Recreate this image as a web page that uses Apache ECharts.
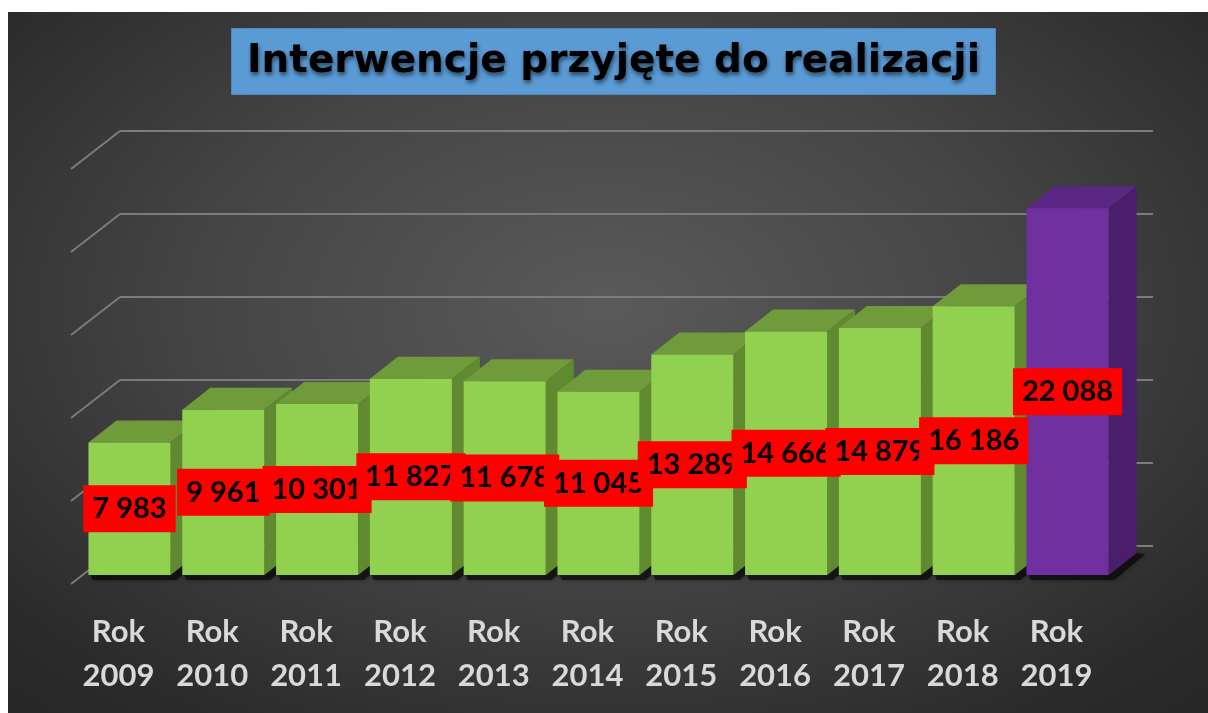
<!DOCTYPE html>
<html><head><meta charset="utf-8">
<script src="https://cdn.jsdelivr.net/npm/echarts@6/dist/echarts.min.js"></script>
<style>
html,body{margin:0;padding:0;background:#fff;width:1208px;height:713px;overflow:hidden;}
#c{position:absolute;left:8px;top:12px;width:1200px;height:701px;
background: radial-gradient(ellipse 75% 80% at 50% 42%, #5a5a5a 0%, #454545 45%, #2b2b2b 85%, #262626 100%);}
</style></head><body><div id="c"></div>
<script>
const titleText = 'Interwencje przyjęte do realizacji';
const categories = ['Rok\n2009','Rok\n2010','Rok\n2011','Rok\n2012','Rok\n2013','Rok\n2014','Rok\n2015','Rok\n2016','Rok\n2017','Rok\n2018','Rok\n2019'];
const values = [7983, 9961, 10301, 11827, 11678, 11045, 13289, 14666, 14879, 16186, 22088];
const yTicks = [0, 5000, 10000, 15000, 20000, 25000];

const DX = 28, DY = -22;          // bar depth offset
const WDX = -49, WDY = 38;        // wall-to-front offset for left edge lines
const GREEN = {front:'#92d050', top:'#709b3a', side:'#5f8a30'};
const PURPLE = {front:'#7030a0', top:'#5a2785', side:'#4a1e6a'};

function fmt(v){ return String(v).replace(/\B(?=(\d{3})+(?!\d))/g, ' '); }

const chart = echarts.init(document.getElementById('c'), null, {renderer:'canvas'});
chart.setOption({
  backgroundColor: 'transparent',
  animation: false,
  title: {
    text: titleText,
    left: 223, top: 16,
    padding: [11, 16, 11, 16],
    backgroundColor: '#5b9bd5',
    borderColor: '#4f88bd', borderWidth: 1,
    textStyle: {
      fontFamily: 'DejaVu Sans', fontWeight: 'bold', fontSize: 39, lineHeight: 45,
      color: '#000',
      textShadowColor: 'rgba(0,0,0,0.55)', textShadowBlur: 4, textShadowOffsetX: 1, textShadowOffsetY: 3
    }
  },
  grid: [
    {left: 74.6, right: 93.6, top: 148, bottom: 138},
    {left: 112, right: 55, top: 119, bottom: 167}
  ],
  xAxis: [
    {type:'category', gridIndex:0, data: categories, boundaryGap: true,
     axisLine:{show:false}, axisTick:{show:false}, splitLine:{show:false},
     axisLabel:{color:'#d9d9d9', fontFamily:'Lato', fontWeight:'bold', fontSize:31, lineHeight:44,
                margin:35, padding:[0,22,0,0], interval:0}},
    {type:'value', gridIndex:1, min:0, max:1, show:false}
  ],
  yAxis: [
    {type:'value', gridIndex:0, min:0, max:25000, interval:5000, show:false},
    {type:'value', gridIndex:1, min:0, max:25000, interval:5000,
     axisLine:{show:false}, axisTick:{show:false}, axisLabel:{show:false},
     splitLine:{show:true, lineStyle:{color:'#7c7c7c', width:2}}}
  ],
  series: [
    {
      type:'custom', xAxisIndex:1, yAxisIndex:1, z:1, clip:false, silent:true,
      data: yTicks.map(t => [0, t]),
      renderItem(params, api){
        const p = api.coord([0, api.value(1)]);
        return {type:'line', shape:{x1:p[0], y1:p[1], x2:p[0]+WDX, y2:p[1]+WDY},
                style:{stroke:'#7c7c7c', lineWidth:2}};
      }
    },
    {
      type:'custom', xAxisIndex:0, yAxisIndex:0, z:3, clip:false, silent:true,
      data: values.map((v,i) => [i, v]),
      renderItem(params, api){
        const i = api.value(0), v = api.value(1);
        const top = api.coord([i, v]), base = api.coord([i, 0]);
        const bw = api.size([1, 0])[0] * 0.875;
        const x0 = top[0] - bw/2, x1 = top[0] + bw/2, yt = top[1], yb = base[1];
        const c = (i === values.length - 1) ? PURPLE : GREEN;
        return {type:'group', children:[
          {type:'polygon', shape:{points:[[x0+2,yb],[x1,yb],[x1+DX,yb+DY],[x1+DX+9,yb+DY+1],[x1+6,yb+5],[x0+4,yb+5]]},
           style:{fill:'rgba(0,0,0,0.55)', shadowBlur:5, shadowColor:'rgba(0,0,0,0.7)'}},
          {type:'polygon', shape:{points:[[x0,yt],[x1,yt],[x1+DX,yt+DY],[x0+DX,yt+DY]]}, style:{fill:c.top}},
          {type:'polygon', shape:{points:[[x1,yt],[x1+DX,yt+DY],[x1+DX,yb+DY],[x1,yb]]}, style:{fill:c.side}},
          {type:'rect', shape:{x:x0, y:yt, width:bw, height:yb-yt}, style:{fill:c.front}}
        ]};
      }
    },
    {
      type:'custom', xAxisIndex:0, yAxisIndex:0, z:10, clip:false, silent:true,
      data: values.map((v,i) => [i, v]),
      renderItem(params, api){
        const i = api.value(0), v = api.value(1);
        const top = api.coord([i, v]), base = api.coord([i, 0]);
        return {type:'text', x: top[0], y: (top[1] + base[1]) / 2,
          style:{text: fmt(v), fontFamily:'Lato', fontWeight:'bold', fontSize:29,
                 fill:'#000', align:'center', verticalAlign:'middle',
                 backgroundColor:'#ff0000', padding:[9,9,9,9]}};
      }
    }
  ]
});
</script></body></html>
